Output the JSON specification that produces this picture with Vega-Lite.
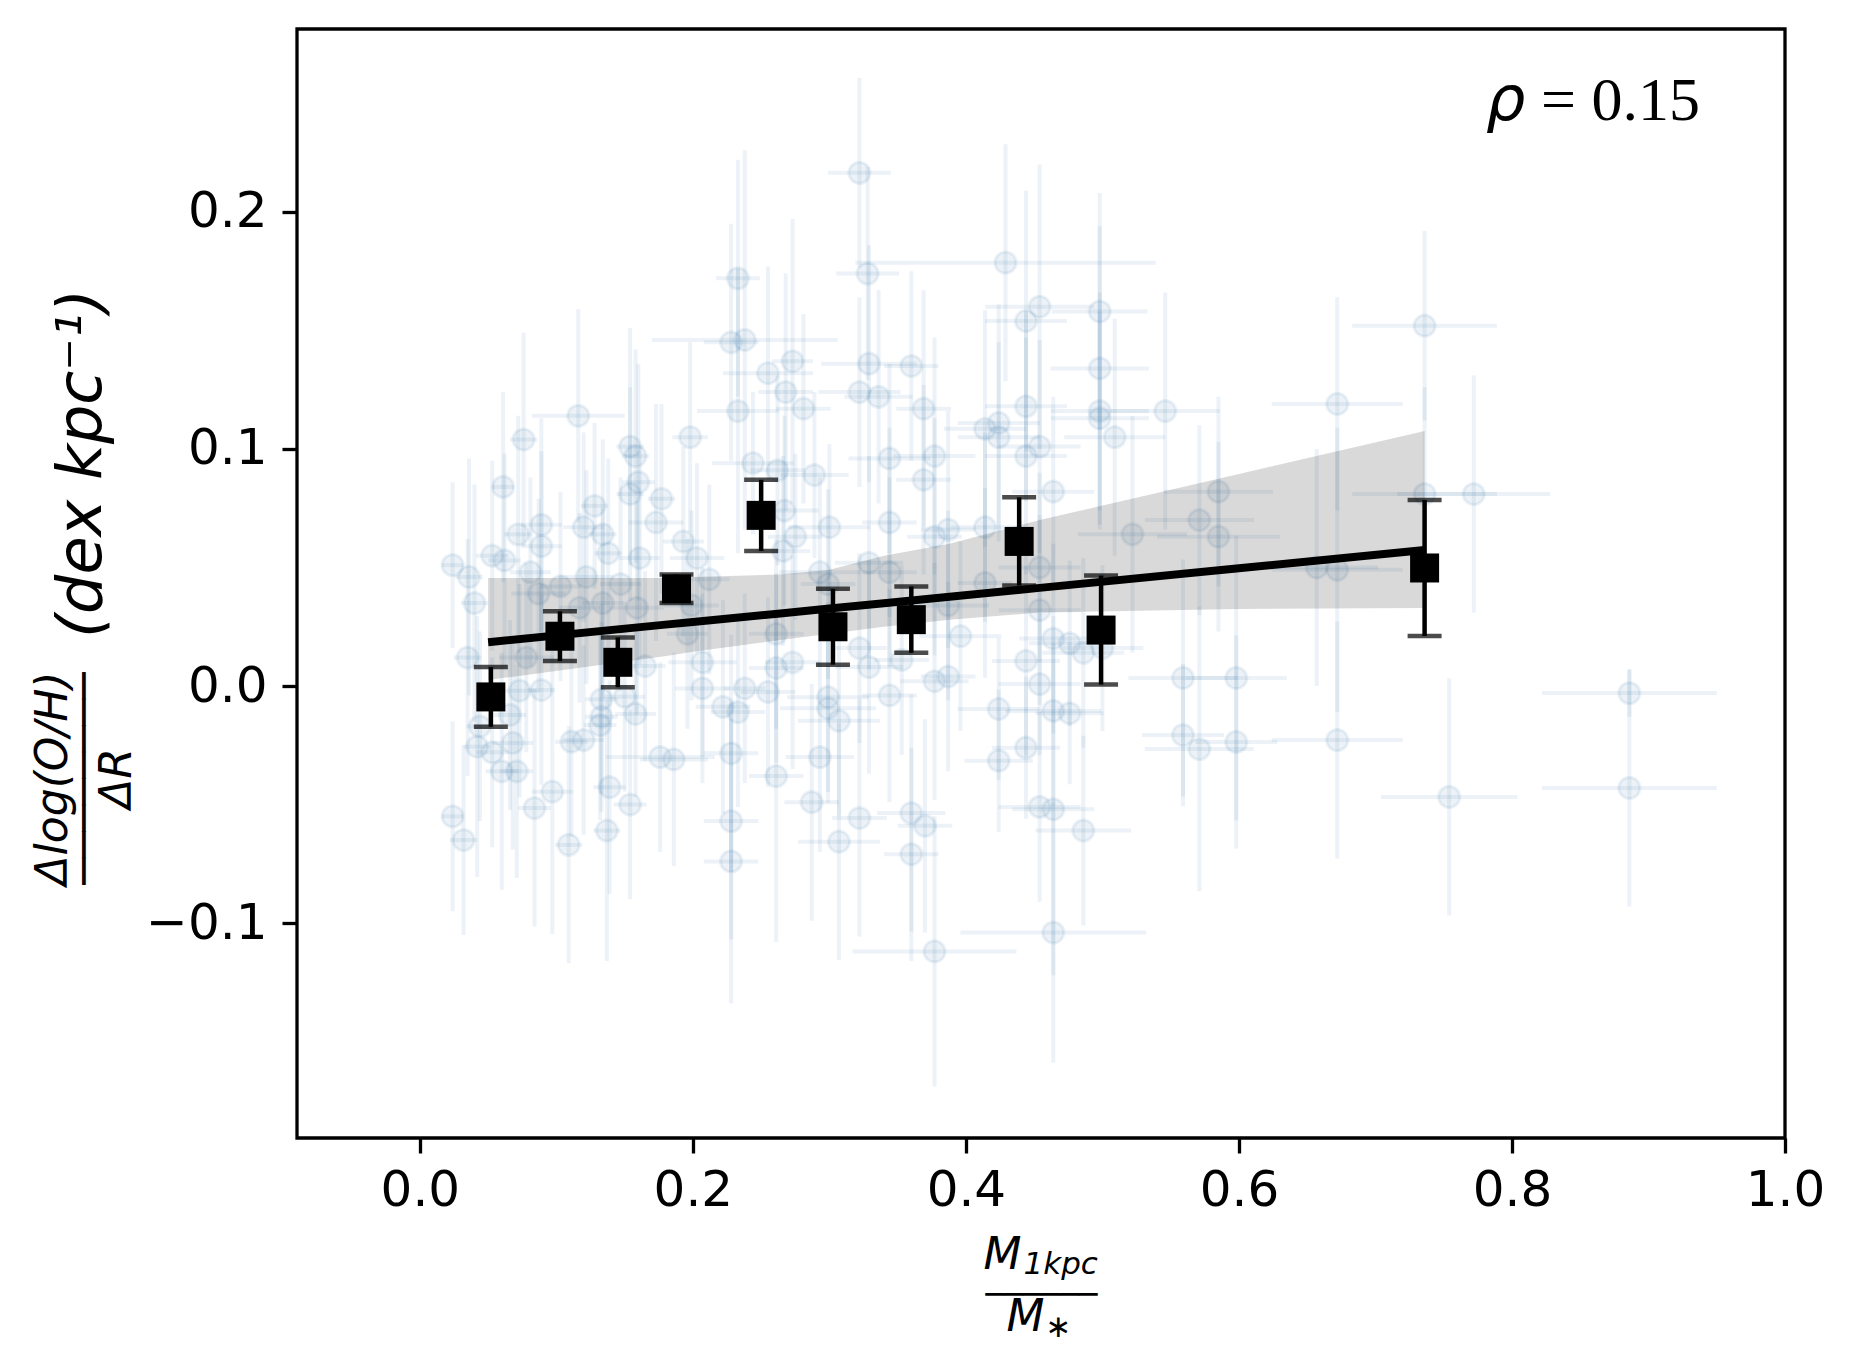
{
  "$schema": "https://vega.github.io/schema/vega-lite/v6.json",
  "width": 1488,
  "height": 1109,
  "autosize": {"type": "none"},
  "padding": {"left": 297, "top": 29, "right": 69, "bottom": 220},
  "background": "white",
  "config": {
    "view": {"stroke": "black", "strokeWidth": 3.3},
    "axis": {"grid": false}
  },
  "datasets": {
    "gals": [
      {"x":0.322,"y":0.2165,"ex":0.023,"ey":0.04},
      {"x":0.233,"y":0.172,"ex":0.016,"ey":0.05},
      {"x":0.328,"y":0.174,"ex":0.023,"ey":0.045},
      {"x":0.238,"y":0.146,"ex":0.068,"ey":0.08},
      {"x":0.228,"y":0.145,"ex":0.02,"ey":0.05},
      {"x":0.273,"y":0.137,"ex":0.015,"ey":0.06},
      {"x":0.255,"y":0.132,"ex":0.033,"ey":0.045},
      {"x":0.329,"y":0.136,"ex":0.035,"ey":0.05},
      {"x":0.36,"y":0.135,"ex":0.02,"ey":0.04},
      {"x":0.268,"y":0.124,"ex":0.02,"ey":0.05},
      {"x":0.322,"y":0.124,"ex":0.03,"ey":0.04},
      {"x":0.336,"y":0.122,"ex":0.025,"ey":0.045},
      {"x":0.233,"y":0.116,"ex":0.03,"ey":0.06},
      {"x":0.281,"y":0.117,"ex":0.02,"ey":0.04},
      {"x":0.369,"y":0.117,"ex":0.02,"ey":0.05},
      {"x":0.116,"y":0.114,"ex":0.034,"ey":0.045},
      {"x":0.076,"y":0.104,"ex":0.01,"ey":0.045},
      {"x":0.198,"y":0.105,"ex":0.013,"ey":0.04},
      {"x":0.154,"y":0.101,"ex":0.01,"ey":0.05},
      {"x":0.158,"y":0.097,"ex":0.01,"ey":0.045},
      {"x":0.344,"y":0.096,"ex":0.03,"ey":0.04},
      {"x":0.377,"y":0.097,"ex":0.03,"ey":0.05},
      {"x":0.244,"y":0.094,"ex":0.03,"ey":0.03},
      {"x":0.262,"y":0.091,"ex":0.02,"ey":0.04},
      {"x":0.289,"y":0.089,"ex":0.025,"ey":0.035},
      {"x":0.369,"y":0.087,"ex":0.02,"ey":0.04},
      {"x":0.061,"y":0.084,"ex":0.008,"ey":0.04},
      {"x":0.16,"y":0.086,"ex":0.012,"ey":0.05},
      {"x":0.154,"y":0.081,"ex":0.01,"ey":0.045},
      {"x":0.177,"y":0.079,"ex":0.01,"ey":0.04},
      {"x":0.128,"y":0.076,"ex":0.01,"ey":0.035},
      {"x":0.173,"y":0.069,"ex":0.02,"ey":0.05},
      {"x":0.344,"y":0.069,"ex":0.02,"ey":0.04},
      {"x":0.3,"y":0.067,"ex":0.03,"ey":0.035},
      {"x":0.089,"y":0.068,"ex":0.015,"ey":0.045},
      {"x":0.12,"y":0.067,"ex":0.015,"ey":0.04},
      {"x":0.134,"y":0.064,"ex":0.01,"ey":0.04},
      {"x":0.072,"y":0.064,"ex":0.01,"ey":0.05},
      {"x":0.267,"y":0.074,"ex":0.025,"ey":0.04},
      {"x":0.275,"y":0.063,"ex":0.02,"ey":0.035},
      {"x":0.193,"y":0.061,"ex":0.015,"ey":0.04},
      {"x":0.266,"y":0.057,"ex":0.02,"ey":0.04},
      {"x":0.089,"y":0.059,"ex":0.015,"ey":0.04},
      {"x":0.377,"y":0.063,"ex":0.02,"ey":0.05},
      {"x":0.138,"y":0.056,"ex":0.01,"ey":0.04},
      {"x":0.053,"y":0.055,"ex":0.012,"ey":0.04},
      {"x":0.062,"y":0.053,"ex":0.012,"ey":0.045},
      {"x":0.024,"y":0.051,"ex":0.008,"ey":0.035},
      {"x":0.161,"y":0.054,"ex":0.015,"ey":0.045},
      {"x":0.203,"y":0.054,"ex":0.02,"ey":0.04},
      {"x":0.036,"y":0.046,"ex":0.01,"ey":0.05},
      {"x":0.081,"y":0.048,"ex":0.015,"ey":0.04},
      {"x":0.122,"y":0.046,"ex":0.02,"ey":0.045},
      {"x":0.212,"y":0.045,"ex":0.015,"ey":0.04},
      {"x":0.293,"y":0.048,"ex":0.03,"ey":0.04},
      {"x":0.329,"y":0.052,"ex":0.025,"ey":0.045},
      {"x":0.344,"y":0.048,"ex":0.02,"ey":0.04},
      {"x":0.299,"y":0.043,"ex":0.02,"ey":0.04},
      {"x":0.04,"y":0.035,"ex":0.01,"ey":0.05},
      {"x":0.087,"y":0.039,"ex":0.02,"ey":0.04},
      {"x":0.103,"y":0.042,"ex":0.015,"ey":0.04},
      {"x":0.147,"y":0.043,"ex":0.015,"ey":0.045},
      {"x":0.117,"y":0.033,"ex":0.015,"ey":0.04},
      {"x":0.134,"y":0.035,"ex":0.015,"ey":0.04},
      {"x":0.159,"y":0.033,"ex":0.02,"ey":0.045},
      {"x":0.199,"y":0.034,"ex":0.02,"ey":0.04},
      {"x":0.035,"y":0.012,"ex":0.01,"ey":0.05},
      {"x":0.078,"y":0.012,"ex":0.02,"ey":0.04},
      {"x":0.207,"y":0.01,"ex":0.025,"ey":0.04},
      {"x":0.273,"y":0.01,"ex":0.02,"ey":0.045},
      {"x":0.261,"y":0.022,"ex":0.02,"ey":0.04},
      {"x":0.196,"y":0.022,"ex":0.015,"ey":0.04},
      {"x":0.261,"y":0.0076,"ex":0.02,"ey":0.04},
      {"x":0.165,"y":0.0084,"ex":0.015,"ey":0.04},
      {"x":0.322,"y":0.016,"ex":0.02,"ey":0.04},
      {"x":0.329,"y":0.008,"ex":0.025,"ey":0.045},
      {"x":0.353,"y":0.011,"ex":0.02,"ey":0.04},
      {"x":0.377,"y":0.002,"ex":0.025,"ey":0.05},
      {"x":0.089,"y":-0.0017,"ex":0.01,"ey":0.04},
      {"x":0.073,"y":-0.002,"ex":0.015,"ey":0.045},
      {"x":0.207,"y":-0.001,"ex":0.02,"ey":0.04},
      {"x":0.238,"y":-0.001,"ex":0.015,"ey":0.04},
      {"x":0.255,"y":-0.0025,"ex":0.02,"ey":0.04},
      {"x":0.133,"y":-0.0056,"ex":0.012,"ey":0.04},
      {"x":0.15,"y":-0.0045,"ex":0.015,"ey":0.04},
      {"x":0.299,"y":-0.0047,"ex":0.03,"ey":0.04},
      {"x":0.344,"y":-0.004,"ex":0.02,"ey":0.045},
      {"x":0.222,"y":-0.0088,"ex":0.02,"ey":0.045},
      {"x":0.233,"y":-0.011,"ex":0.02,"ey":0.04},
      {"x":0.299,"y":-0.0094,"ex":0.035,"ey":0.04},
      {"x":0.158,"y":-0.0118,"ex":0.015,"ey":0.035},
      {"x":0.066,"y":-0.0122,"ex":0.012,"ey":0.04},
      {"x":0.307,"y":-0.0147,"ex":0.03,"ey":0.04},
      {"x":0.132,"y":-0.0165,"ex":0.012,"ey":0.04},
      {"x":0.133,"y":-0.013,"ex":0.012,"ey":0.04},
      {"x":0.044,"y":-0.017,"ex":0.01,"ey":0.04},
      {"x":0.042,"y":-0.0256,"ex":0.01,"ey":0.055},
      {"x":0.053,"y":-0.028,"ex":0.012,"ey":0.04},
      {"x":0.068,"y":-0.024,"ex":0.015,"ey":0.045},
      {"x":0.111,"y":-0.0235,"ex":0.012,"ey":0.04},
      {"x":0.12,"y":-0.0228,"ex":0.015,"ey":0.04},
      {"x":0.176,"y":-0.03,"ex":0.04,"ey":0.04},
      {"x":0.186,"y":-0.031,"ex":0.025,"ey":0.045},
      {"x":0.228,"y":-0.0284,"ex":0.02,"ey":0.05},
      {"x":0.293,"y":-0.03,"ex":0.025,"ey":0.04},
      {"x":0.06,"y":-0.036,"ex":0.012,"ey":0.05},
      {"x":0.071,"y":-0.036,"ex":0.012,"ey":0.045},
      {"x":0.261,"y":-0.038,"ex":0.02,"ey":0.07},
      {"x":0.097,"y":-0.0446,"ex":0.015,"ey":0.06},
      {"x":0.139,"y":-0.0427,"ex":0.012,"ey":0.045},
      {"x":0.154,"y":-0.05,"ex":0.012,"ey":0.04},
      {"x":0.287,"y":-0.049,"ex":0.02,"ey":0.05},
      {"x":0.084,"y":-0.0515,"ex":0.012,"ey":0.05},
      {"x":0.024,"y":-0.055,"ex":0.008,"ey":0.04},
      {"x":0.228,"y":-0.057,"ex":0.02,"ey":0.05},
      {"x":0.322,"y":-0.0557,"ex":0.02,"ey":0.05},
      {"x":0.36,"y":-0.0536,"ex":0.025,"ey":0.05},
      {"x":0.37,"y":-0.059,"ex":0.02,"ey":0.045},
      {"x":0.137,"y":-0.061,"ex":0.01,"ey":0.055},
      {"x":0.032,"y":-0.065,"ex":0.01,"ey":0.04},
      {"x":0.109,"y":-0.067,"ex":0.01,"ey":0.05},
      {"x":0.307,"y":-0.0657,"ex":0.03,"ey":0.05},
      {"x":0.228,"y":-0.074,"ex":0.02,"ey":0.06},
      {"x":0.36,"y":-0.071,"ex":0.02,"ey":0.045},
      {"x":0.377,"y":-0.112,"ex":0.06,"ey":0.057},
      {"x":0.429,"y":0.1786,"ex":0.11,"ey":0.05},
      {"x":0.454,"y":0.16,"ex":0.04,"ey":0.06},
      {"x":0.444,"y":0.154,"ex":0.03,"ey":0.055},
      {"x":0.498,"y":0.158,"ex":0.035,"ey":0.05},
      {"x":0.498,"y":0.134,"ex":0.036,"ey":0.06},
      {"x":0.736,"y":0.152,"ex":0.053,"ey":0.04},
      {"x":0.444,"y":0.118,"ex":0.03,"ey":0.04},
      {"x":0.498,"y":0.116,"ex":0.036,"ey":0.05},
      {"x":0.498,"y":0.113,"ex":0.036,"ey":0.045},
      {"x":0.546,"y":0.116,"ex":0.04,"ey":0.05},
      {"x":0.672,"y":0.119,"ex":0.048,"ey":0.045},
      {"x":0.424,"y":0.111,"ex":0.03,"ey":0.05},
      {"x":0.414,"y":0.1085,"ex":0.03,"ey":0.05},
      {"x":0.424,"y":0.105,"ex":0.03,"ey":0.04},
      {"x":0.509,"y":0.105,"ex":0.037,"ey":0.05},
      {"x":0.454,"y":0.101,"ex":0.03,"ey":0.045},
      {"x":0.444,"y":0.097,"ex":0.03,"ey":0.05},
      {"x":0.464,"y":0.082,"ex":0.03,"ey":0.04},
      {"x":0.585,"y":0.082,"ex":0.04,"ey":0.04},
      {"x":0.736,"y":0.081,"ex":0.053,"ey":0.045},
      {"x":0.414,"y":0.067,"ex":0.025,"ey":0.04},
      {"x":0.387,"y":0.066,"ex":0.02,"ey":0.05},
      {"x":0.571,"y":0.07,"ex":0.04,"ey":0.04},
      {"x":0.585,"y":0.063,"ex":0.045,"ey":0.04},
      {"x":0.522,"y":0.064,"ex":0.04,"ey":0.05},
      {"x":0.454,"y":0.05,"ex":0.03,"ey":0.04},
      {"x":0.414,"y":0.0435,"ex":0.02,"ey":0.04},
      {"x":0.657,"y":0.05,"ex":0.045,"ey":0.05},
      {"x":0.672,"y":0.049,"ex":0.048,"ey":0.06},
      {"x":0.387,"y":0.034,"ex":0.03,"ey":0.04},
      {"x":0.454,"y":0.032,"ex":0.03,"ey":0.04},
      {"x":0.396,"y":0.021,"ex":0.03,"ey":0.04},
      {"x":0.464,"y":0.02,"ex":0.025,"ey":0.04},
      {"x":0.476,"y":0.018,"ex":0.03,"ey":0.035},
      {"x":0.486,"y":0.014,"ex":0.03,"ey":0.04},
      {"x":0.444,"y":0.0106,"ex":0.025,"ey":0.04},
      {"x":0.5,"y":0.016,"ex":0.03,"ey":0.035},
      {"x":0.559,"y":0.0034,"ex":0.04,"ey":0.05},
      {"x":0.598,"y":0.0034,"ex":0.037,"ey":0.06},
      {"x":0.387,"y":0.004,"ex":0.02,"ey":0.04},
      {"x":0.454,"y":0.0008,"ex":0.03,"ey":0.03},
      {"x":0.424,"y":-0.0097,"ex":0.03,"ey":0.03},
      {"x":0.464,"y":-0.0105,"ex":0.035,"ey":0.04},
      {"x":0.476,"y":-0.0115,"ex":0.025,"ey":0.03},
      {"x":0.444,"y":-0.026,"ex":0.025,"ey":0.03},
      {"x":0.424,"y":-0.0315,"ex":0.025,"ey":0.03},
      {"x":0.559,"y":-0.0207,"ex":0.03,"ey":0.03},
      {"x":0.571,"y":-0.0266,"ex":0.04,"ey":0.06},
      {"x":0.598,"y":-0.0236,"ex":0.03,"ey":0.045},
      {"x":0.672,"y":-0.0228,"ex":0.048,"ey":0.05},
      {"x":0.454,"y":-0.051,"ex":0.03,"ey":0.04},
      {"x":0.464,"y":-0.052,"ex":0.03,"ey":0.07},
      {"x":0.486,"y":-0.061,"ex":0.035,"ey":0.04},
      {"x":0.754,"y":-0.0468,"ex":0.05,"ey":0.05},
      {"x":0.464,"y":-0.104,"ex":0.068,"ey":0.055},
      {"x":0.772,"y":0.081,"ex":0.056,"ey":0.05},
      {"x":0.886,"y":-0.003,"ex":0.064,"ey":0.01},
      {"x":0.886,"y":-0.043,"ex":0.064,"ey":0.05}
    ],
    "bins": [
      {"x":0.052,"y":-0.0046,"e":0.0126},
      {"x":0.1026,"y":0.021,"e":0.0105},
      {"x":0.145,"y":0.01,"e":0.0105},
      {"x":0.188,"y":0.041,"e":0.006},
      {"x":0.25,"y":0.072,"e":0.015},
      {"x":0.3026,"y":0.025,"e":0.016},
      {"x":0.36,"y":0.028,"e":0.014},
      {"x":0.439,"y":0.061,"e":0.0186},
      {"x":0.499,"y":0.0236,"e":0.023},
      {"x":0.736,"y":0.0498,"e":0.0287}
    ],
    "fit": [
      {"x":0.05,"lo":0.0025,"hi":0.0456,"fit":0.0185},
      {"x":0.178,"lo":0.0125,"hi":0.0456,"fit":0.0258},
      {"x":0.2,"lo":0.0145,"hi":0.046,"fit":0.027},
      {"x":0.264,"lo":0.0194,"hi":0.047,"fit":0.0306},
      {"x":0.3,"lo":0.022,"hi":0.049,"fit":0.0327},
      {"x":0.34,"lo":0.025,"hi":0.055,"fit":0.0349},
      {"x":0.388,"lo":0.028,"hi":0.06,"fit":0.0377},
      {"x":0.454,"lo":0.031,"hi":0.07,"fit":0.0414},
      {"x":0.6,"lo":0.0325,"hi":0.0895,"fit":0.0497},
      {"x":0.736,"lo":0.0329,"hi":0.1076,"fit":0.0574}
    ]
  },
  "layer": [
    {
      "data": {"name": "gals"},
      "mark": {"type": "errorbar", "ticks": false, "thickness": 4, "color": "#4682b4", "opacity": 0.1},
      "encoding": {
        "x": {"field": "x", "type": "quantitative", "scale": {"domain": [-0.09, 1.0], "nice": false, "zero": false}, "axis": null},
        "xError": {"field": "ex"},
        "y": {"field": "y", "type": "quantitative", "scale": {"domain": [-0.1907, 0.2772], "nice": false, "zero": false}, "axis": null}
      }
    },
    {
      "data": {"name": "gals"},
      "mark": {"type": "errorbar", "ticks": false, "thickness": 4, "color": "#4682b4", "opacity": 0.1},
      "encoding": {
        "x": {"field": "x", "type": "quantitative", "scale": {"domain": [-0.09, 1.0], "nice": false, "zero": false}, "axis": null},
        "y": {"field": "y", "type": "quantitative", "scale": {"domain": [-0.1907, 0.2772], "nice": false, "zero": false}, "axis": null},
        "yError": {"field": "ey"}
      }
    },
    {
      "data": {"name": "gals"},
      "mark": {"type": "point", "shape": "circle", "filled": true, "size": 452, "fill": "#4682b4", "stroke": "#4682b4", "strokeWidth": 3, "opacity": 1, "fillOpacity": 0.1, "strokeOpacity": 0.1},
      "encoding": {
        "x": {
          "field": "x", "type": "quantitative",
          "scale": {"domain": [-0.09, 1.0], "nice": false, "zero": false},
          "axis": {
            "orient": "bottom", "values": [0, 0.2, 0.4, 0.6, 0.8, 1.0], "format": ".1f",
            "domain": false, "grid": false,
            "tickColor": "black", "tickWidth": 3.3, "tickSize": 15,
            "labelFont": "DejaVu Sans", "labelFontSize": 50, "labelColor": "black", "labelPadding": 12,
            "labelFlush": false, "labelOverlap": false,
            "title": "M",
            "titleFont": "DejaVu Sans", "titleFontStyle": "italic", "titleFontWeight": "normal",
            "titleFontSize": 44, "titleColor": "black",
            "titleAlign": "left", "titleBaseline": "alphabetic", "titleAngle": 0,
            "titleX": 686, "titleY": 130
          }
        },
        "y": {
          "field": "y", "type": "quantitative",
          "scale": {"domain": [-0.1907, 0.2772], "nice": false, "zero": false},
          "axis": {
            "orient": "left", "values": [-0.1, 0, 0.1, 0.2], "format": ".1f",
            "domain": false, "grid": false,
            "tickColor": "black", "tickWidth": 3.3, "tickSize": 15,
            "labelFont": "DejaVu Sans", "labelFontSize": 50, "labelColor": "black", "labelPadding": 15,
            "labelOverlap": false,
            "title": ["Δlog(O/H)", "────────", "ΔR"],
            "titleFont": "DejaVu Sans", "titleFontStyle": "italic", "titleFontWeight": "normal",
            "titleFontSize": 44, "titleColor": "black", "titleLineHeight": 32,
            "titleAlign": "center", "titleBaseline": "alphabetic", "titleAngle": 270,
            "titleX": -231, "titleY": 749
          }
        }
      }
    },
    {
      "data": {"name": "fit"},
      "mark": {"type": "area", "color": "black", "opacity": 0.15},
      "encoding": {
        "x": {
          "field": "x", "type": "quantitative",
          "scale": {"domain": [-0.09, 1.0], "nice": false, "zero": false},
          "axis": {
            "orient": "bottom", "labels": false, "ticks": false, "domain": false, "grid": false,
            "title": "M",
            "titleFont": "DejaVu Sans", "titleFontStyle": "italic", "titleFontWeight": "normal",
            "titleFontSize": 44, "titleColor": "black",
            "titleAlign": "left", "titleBaseline": "alphabetic", "titleAngle": 0,
            "titleX": 709, "titleY": 192
          }
        },
        "y": {"field": "lo", "type": "quantitative", "scale": {"domain": [-0.1907, 0.2772], "nice": false, "zero": false}, "axis": null},
        "y2": {"field": "hi"}
      }
    },
    {
      "data": {"name": "fit"},
      "mark": {"type": "line", "color": "black", "strokeWidth": 8, "strokeCap": "butt"},
      "encoding": {
        "x": {
          "field": "x", "type": "quantitative",
          "scale": {"domain": [-0.09, 1.0], "nice": false, "zero": false},
          "axis": {
            "orient": "bottom", "labels": false, "ticks": false, "domain": false, "grid": false,
            "title": "──────",
            "titleFont": "DejaVu Sans", "titleFontWeight": "normal",
            "titleFontSize": 31, "titleColor": "black",
            "titleAlign": "left", "titleBaseline": "alphabetic", "titleAngle": 0,
            "titleX": 688, "titleY": 166.5
          }
        },
        "y": {"field": "fit", "type": "quantitative", "scale": {"domain": [-0.1907, 0.2772], "nice": false, "zero": false}, "axis": null}
      }
    },
    {
      "data": {"name": "bins"},
      "mark": {"type": "errorbar", "ticks": true, "size": 34, "thickness": 4.5, "color": "black"},
      "encoding": {
        "x": {"field": "x", "type": "quantitative", "scale": {"domain": [-0.09, 1.0], "nice": false, "zero": false}, "axis": null},
        "y": {"field": "y", "type": "quantitative", "scale": {"domain": [-0.1907, 0.2772], "nice": false, "zero": false}, "axis": null},
        "yError": {"field": "e"}
      }
    },
    {
      "data": {"name": "bins"},
      "mark": {"type": "point", "shape": "square", "filled": true, "size": 841, "color": "black", "opacity": 1},
      "encoding": {
        "x": {
          "field": "x", "type": "quantitative",
          "scale": {"domain": [-0.09, 1.0], "nice": false, "zero": false},
          "axis": {
            "orient": "bottom", "labels": false, "ticks": false, "domain": false, "grid": false,
            "title": "1kpc",
            "titleFont": "DejaVu Sans", "titleFontStyle": "italic", "titleFontWeight": "normal",
            "titleFontSize": 31, "titleColor": "black",
            "titleAlign": "left", "titleBaseline": "alphabetic", "titleAngle": 0,
            "titleX": 726, "titleY": 135.5
          }
        },
        "y": {
          "field": "y", "type": "quantitative",
          "scale": {"domain": [-0.1907, 0.2772], "nice": false, "zero": false},
          "axis": {
            "orient": "left", "labels": false, "ticks": false, "domain": false, "grid": false,
            "title": "(dex kpc⁻¹)",
            "titleFont": "DejaVu Sans", "titleFontStyle": "italic", "titleFontWeight": "normal",
            "titleFontSize": 62, "titleColor": "black",
            "titleAlign": "center", "titleBaseline": "alphabetic", "titleAngle": 270,
            "titleX": -197, "titleY": 434
          }
        }
      }
    },
    {
      "data": {"values": [{"x": 0.781, "y": 0.2388, "t": "ρ"}]},
      "mark": {"type": "text", "align": "left", "baseline": "alphabetic", "font": "DejaVu Sans", "fontStyle": "italic", "fontSize": 62, "color": "black"},
      "encoding": {
        "x": {
          "field": "x", "type": "quantitative",
          "scale": {"domain": [-0.09, 1.0], "nice": false, "zero": false},
          "axis": {
            "orient": "bottom", "labels": false, "ticks": false, "domain": false, "grid": false,
            "title": "∗",
            "titleFont": "DejaVu Sans", "titleFontWeight": "normal",
            "titleFontSize": 31, "titleColor": "black",
            "titleAlign": "left", "titleBaseline": "alphabetic", "titleAngle": 0,
            "titleX": 748, "titleY": 198
          }
        },
        "y": {"field": "y", "type": "quantitative", "scale": {"domain": [-0.1907, 0.2772], "nice": false, "zero": false}, "axis": null},
        "text": {"field": "t"}
      }
    },
    {
      "data": {"values": [{"x": 0.8212, "y": 0.2388, "t": "= 0.15"}]},
      "mark": {"type": "text", "align": "left", "baseline": "alphabetic", "font": "Liberation Serif", "fontSize": 62, "color": "black"},
      "encoding": {
        "x": {"field": "x", "type": "quantitative", "scale": {"domain": [-0.09, 1.0], "nice": false, "zero": false}, "axis": null},
        "y": {"field": "y", "type": "quantitative", "scale": {"domain": [-0.1907, 0.2772], "nice": false, "zero": false}, "axis": null},
        "text": {"field": "t"}
      }
    }
  ],
  "resolve": {"scale": {"x": "independent", "y": "independent"}}
}
